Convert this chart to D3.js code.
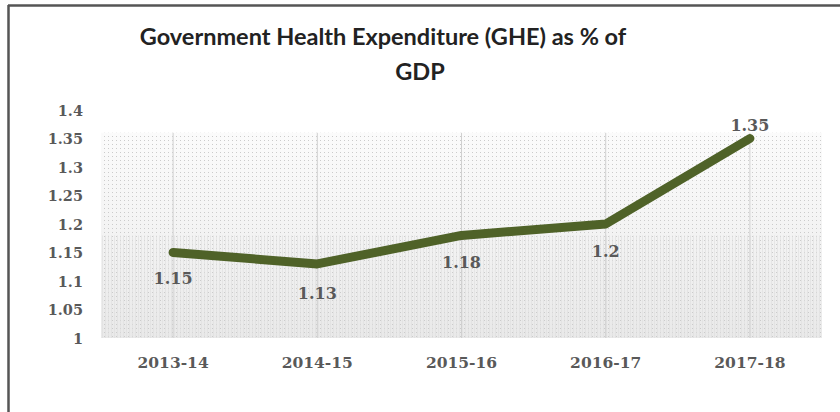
<!DOCTYPE html>
<html><head><meta charset="utf-8">
<script src="https://cdn.jsdelivr.net/npm/d3@7"></script>
<style>body{margin:0;background:#fff}svg{display:block}</style>
</head><body>
<svg id="c" width="840" height="412"></svg>
<script>
const categories = ["2013-14","2014-15","2015-16","2016-17","2017-18"];
const values = [1.15,1.13,1.18,1.2,1.35];
const valueLabels = ["1.15","1.13","1.18","1.2","1.35"];
const yTicks = [1,1.05,1.1,1.15,1.2,1.25,1.3,1.35,1.4];
const yTickLabels = ["1","1.05","1.1","1.15","1.2","1.25","1.3","1.35","1.4"];
const titleLines = ["Government Health Expenditure (GHE) as % of","GDP"];

(function(){
const svg = d3.select("#c");
const W=840,H=412;
const serif = "DejaVu Serif";
svg.append("rect").attr("width",W).attr("height",H).attr("fill","#fff");
// frame (top & left)
svg.append("line").attr("x1",8).attr("x2",W).attr("y1",5.5).attr("y2",5.5).attr("stroke","#555").attr("stroke-width",2.5);
svg.append("line").attr("x1",8.5).attr("x2",8.5).attr("y1",5).attr("y2",H).attr("stroke","#555").attr("stroke-width",2.5);

const x = d3.scaleBand().domain(categories).range([101,822]);
const y = d3.scaleLinear().domain([1,1.4]).range([338,110]);

const defs = svg.append("defs");
const grad = defs.append("linearGradient").attr("id","g").attr("x1",0).attr("x2",0).attr("y1",0).attr("y2",1);
grad.append("stop").attr("offset","0%").attr("stop-color","#fbfbfb");
grad.append("stop").attr("offset","50%").attr("stop-color","#f3f3f3");
grad.append("stop").attr("offset","100%").attr("stop-color","#e9e9e9");
const pat = defs.append("pattern").attr("id","p").attr("width",4).attr("height",4).attr("patternUnits","userSpaceOnUse");
pat.append("rect").attr("width",1).attr("height",1).attr("fill","#cbcbcb");
const pat2 = defs.append("pattern").attr("id","p2").attr("width",3).attr("height",3).attr("patternUnits","userSpaceOnUse");
pat2.append("rect").attr("width",1).attr("height",3).attr("fill","#dedede");

const plotTop = y(1.36);
const x0 = x.range()[0], pw = x.range()[1]-x.range()[0];
svg.append("rect").attr("x",x0).attr("y",plotTop).attr("width",pw).attr("height",y(1)-plotTop).attr("fill","url(#g)");
svg.append("rect").attr("x",x0).attr("y",plotTop).attr("width",pw).attr("height",y(1)-plotTop).attr("fill","url(#p)");
svg.append("rect").attr("x",x0).attr("y",y(1.18)).attr("width",pw).attr("height",y(1)-y(1.18)).attr("fill","url(#p2)").attr("opacity",0.6);

// vertical grid at categories
svg.append("g").selectAll("line").data(categories).join("line")
  .attr("x1",d=>x(d)+x.bandwidth()/2).attr("x2",d=>x(d)+x.bandwidth()/2)
  .attr("y1",plotTop).attr("y2",y(1)).attr("stroke","#d0d0d0").attr("stroke-width",1);

// y axis labels
const yAxis = d3.axisLeft(y).tickValues(yTicks).tickFormat((d,i)=>yTickLabels[i]).tickSize(0).tickPadding(0);
const ga = svg.append("g").attr("transform","translate(83,0)").call(yAxis);
ga.select(".domain").remove();
ga.selectAll("text").attr("font-family",serif).attr("font-weight","bold").attr("font-size",14.5).attr("fill","#595959").attr("dy","0.35em");

// x axis labels
const xAxis = d3.axisBottom(x).tickSize(0).tickPadding(0);
const gx = svg.append("g").attr("transform","translate(0,363)").call(xAxis);
gx.select(".domain").remove();
gx.selectAll("text").attr("font-family",serif).attr("font-weight","bold").attr("font-size",15.5).attr("fill","#595959").attr("dy","0.35em");

// line
const line = d3.line().x((d,i)=>x(categories[i])+x.bandwidth()/2).y(d=>y(d));
svg.append("path").datum(values).attr("d",line).attr("fill","none")
  .attr("stroke","#4f6228").attr("stroke-width",9).attr("stroke-linecap","round").attr("stroke-linejoin","round");

// data labels
const offs = [26,29,27,27,-13];
svg.append("g").selectAll("text").data(values).join("text")
  .attr("x",(d,i)=>x(categories[i])+x.bandwidth()/2)
  .attr("y",(d,i)=>y(d)+offs[i]).attr("dy","0.35em")
  .attr("text-anchor","middle").attr("font-family",serif).attr("font-weight","bold")
  .attr("font-size",16).attr("fill","#595959").text((d,i)=>valueLabels[i]);

// title
svg.append("g").selectAll("text").data(titleLines).join("text")
  .attr("x",(d,i)=> i===0?383:420).attr("y",(d,i)=>37+i*35).attr("dy","0.35em")
  .attr("text-anchor","middle").attr("font-family","Lato").attr("font-weight","bold")
  .attr("font-size",23.5).attr("fill","#222").text(d=>d);
})();
</script>
</body></html>
